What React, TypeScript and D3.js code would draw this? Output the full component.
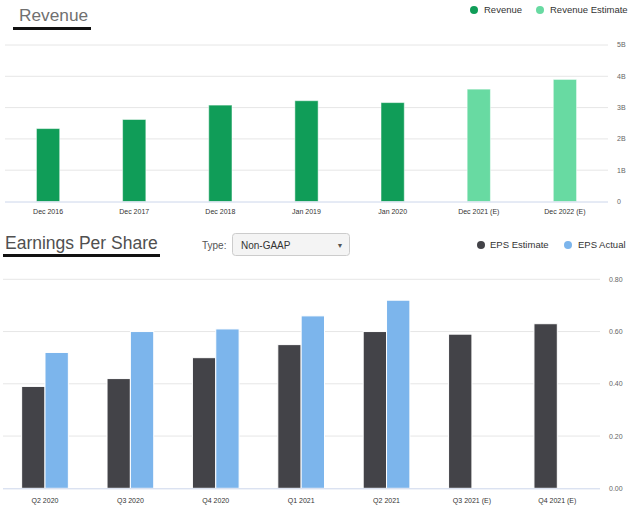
import * as d3 from 'd3'

const revCategories = ['Dec 2016', 'Dec 2017', 'Dec 2018', 'Jan 2019', 'Jan 2020', 'Dec 2021 (E)', 'Dec 2022 (E)']
const revValues = [2.33, 2.62, 3.08, 3.22, 3.16, 3.59, 3.9]
const revIsEstimate = [false, false, false, false, false, true, true]
const revTicks = [0, 1, 2, 3, 4, 5]
const revTickLabels = ['0', '1B', '2B', '3B', '4B', '5B']

const epsCategories = ['Q2 2020', 'Q3 2020', 'Q4 2020', 'Q1 2021', 'Q2 2021', 'Q3 2021 (E)', 'Q4 2021 (E)']
const epsEstimate = [0.39, 0.42, 0.5, 0.55, 0.6, 0.59, 0.63]
const epsActual: (number | null)[] = [0.52, 0.6, 0.61, 0.66, 0.72, null, null]
const epsTicks = [0, 0.2, 0.4, 0.6, 0.8]

const FONT = 'Arial, "Liberation Sans", sans-serif'
const GREEN = '#109d58'
const GREEN_LIGHT = '#68daa2'
const EPS_DARK = '#434348'
const EPS_BLUE = '#7cb5ec'
const GRID = '#e6e6e6'
const AXIS = '#ccd6eb'
const LABEL = '#666666'

function RevenueChart() {
  const x = d3.scaleBand<string>().domain(revCategories).range([5, 608]).paddingInner(0.73).paddingOuter(0.365)
  const y = d3.scaleLinear().domain([0, 5]).range([201.5, 45])

  return (
    <g>
      <text x={19} y={21} fontSize={17.3} fill="#707070" fontFamily={FONT}>Revenue</text>
      <rect x={13} y={27} width={78} height={3} fill="#111" />

      {/* legend */}
      <circle cx={474} cy={10} r={4} fill={GREEN} />
      <text x={484} y={13.3} fontSize={9.5} fill="#333" fontFamily={FONT}>Revenue</text>
      <circle cx={540} cy={10} r={4} fill={GREEN_LIGHT} />
      <text x={550} y={13.3} fontSize={9.5} fill="#333" fontFamily={FONT}>Revenue Estimate</text>

      {revTicks.map((t, i) => (
        <g key={t}>
          {t > 0 && <line x1={5} x2={608} y1={y(t)} y2={y(t)} stroke={GRID} />}
          <text x={617} y={y(t)} dy="0.35em" fontSize={7} fill={LABEL} fontFamily={FONT}>{revTickLabels[i]}</text>
        </g>
      ))}

      {revCategories.map((c, i) => (
        <rect
          key={c}
          x={x(c)}
          y={y(revValues[i])}
          width={x.bandwidth()}
          height={y(0) - y(revValues[i])}
          fill={revIsEstimate[i] ? GREEN_LIGHT : GREEN}
          stroke="#ffffff"
          strokeOpacity={0.5}
        />
      ))}
      <line x1={5} x2={608} y1={y(0) + 0.5} y2={y(0) + 0.5} stroke={AXIS} />

      {revCategories.map(c => (
        <text key={c} x={(x(c) ?? 0) + x.bandwidth() / 2} y={214} textAnchor="middle" fontSize={7} fill="#333" fontFamily={FONT}>{c}</text>
      ))}
    </g>
  )
}

function EpsChart() {
  const x0 = d3.scaleBand<string>().domain(epsCategories).range([2.3, 600]).paddingInner(0.453).paddingOuter(0.2265)
  const x1 = d3.scaleBand<string>().domain(['est', 'act']).range([0, x0.bandwidth()])
  const y = d3.scaleLinear().domain([0, 0.8]).range([488.3, 279.3])

  return (
    <g>
      <text x={5} y={249} fontSize={17.5} fill="#505050" fontFamily={FONT}>Earnings Per Share</text>
      <rect x={3} y={254} width={157} height={3} fill="#111" />

      <text x={202} y={248.5} fontSize={10} fill="#555" fontFamily={FONT}>Type:</text>
      <rect x={232.5} y={233.5} width={117} height={22} rx={3} fill="#f4f4f4" stroke="#cccccc" />
      <text x={241} y={248.5} fontSize={10} fill="#333" fontFamily={FONT}>Non-GAAP</text>
      <text x={340} y={247.5} fontSize={7} fill="#555" textAnchor="middle" fontFamily={FONT}>▼</text>

      {/* legend */}
      <circle cx={481} cy={245} r={4} fill={EPS_DARK} />
      <text x={490} y={248.3} fontSize={9.5} fill="#333" fontFamily={FONT}>EPS Estimate</text>
      <circle cx={568} cy={245} r={4} fill={EPS_BLUE} />
      <text x={578} y={248.3} fontSize={9.5} fill="#333" fontFamily={FONT}>EPS Actual</text>

      {epsTicks.map(t => (
        <g key={t}>
          {t > 0 && <line x1={3} x2={600} y1={y(t)} y2={y(t)} stroke={GRID} />}
          <text x={609} y={y(t)} dy="0.35em" fontSize={7} fill={LABEL} fontFamily={FONT}>{t.toFixed(2)}</text>
        </g>
      ))}

      {epsCategories.map((c, i) => {
        const gx = x0(c) ?? 0
        const act = epsActual[i]
        return (
          <g key={c}>
            <rect x={gx + (x1('est') ?? 0)} y={y(epsEstimate[i])} width={x1.bandwidth()} height={y(0) - y(epsEstimate[i])} fill={EPS_DARK} stroke="#ffffff" />
            {act != null && (
              <rect x={gx + (x1('act') ?? 0)} y={y(act)} width={x1.bandwidth()} height={y(0) - y(act)} fill={EPS_BLUE} stroke="#ffffff" />
            )}
          </g>
        )
      })}
      <line x1={3} x2={600} y1={y(0) + 0.5} y2={y(0) + 0.5} stroke={AXIS} />

      {epsCategories.map(c => (
        <text key={c} x={(x0(c) ?? 0) + x0.bandwidth() / 2} y={502.5} textAnchor="middle" fontSize={7} fill="#333" fontFamily={FONT}>{c}</text>
      ))}
    </g>
  )
}

export default function App() {
  return (
    <svg width={640} height={516} style={{ position: 'absolute', left: 0, top: 0, background: '#fff' }}>
      <RevenueChart />
      <EpsChart />
    </svg>
  )
}
